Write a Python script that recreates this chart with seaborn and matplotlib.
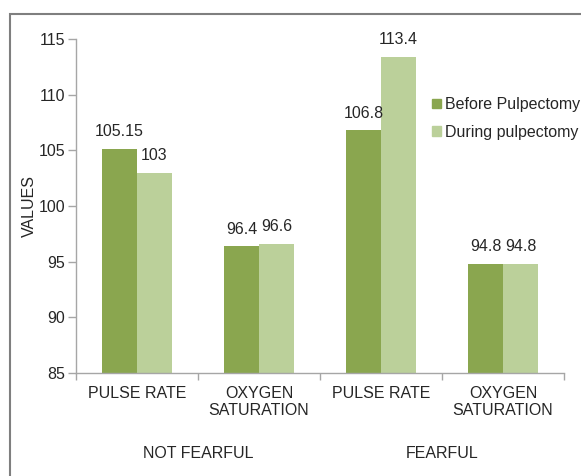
import matplotlib
matplotlib.use("Agg")
import matplotlib.pyplot as plt
import matplotlib.patches as mpatches
import seaborn as sns
import pandas as pd

# Data
measures = ["PULSE RATE", "OXYGEN\nSATURATION", "PULSE RATE", "OXYGEN\nSATURATION"]
groups = ["NOT FEARFUL", "FEARFUL"]
series = ["Before Pulpectomy", "During pulpectomy"]
before = [105.15, 96.4, 106.8, 94.8]
during = [103, 96.6, 113.4, 94.8]
before_labels = ["105.15", "96.4", "106.8", "94.8"]
during_labels = ["103", "96.6", "113.4", "94.8"]

rows = []
for i in range(len(measures)):
    rows.append({"pos": i, "series": series[0], "value": before[i]})
    rows.append({"pos": i, "series": series[1], "value": during[i]})
df = pd.DataFrame(rows)

sns.set_theme(style="white")
plt.rcParams["font.family"] = ["Liberation Sans", "DejaVu Sans"]
text_color = "#262626"
axis_color = "#a6a6a6"
fs = 11.5

fig = plt.figure(figsize=(5.81, 4.76), dpi=100)
ax = fig.add_axes([76 / 581, 1 - 373 / 476, (564 - 76) / 581, (373 - 39) / 476])

colors = ["#8aa64f", "#bbd09a"]
sns.barplot(data=df, x="pos", y="value", hue="series", hue_order=series,
            palette=colors, width=0.574, gap=0, dodge=True, saturation=1,
            order=[0, 1, 2, 3], ax=ax, legend=False, linewidth=0)

ax.set_ylim(85, 115)
ax.set_yticks(range(85, 116, 5))
ax.set_xlim(-0.5, 3.5)

# bars start at the axis floor
for patch in ax.patches:
    h = patch.get_height()
    patch.set_y(85)
    patch.set_height(h - 85)
    patch.set_edgecolor("none")

# value labels
bar_w = 0.574 / 2
for i in range(len(measures)):
    ax.text(i - bar_w / 2, before[i] + 0.85, before_labels[i], ha="center",
            va="bottom", fontsize=fs, color=text_color)
    ax.text(i + bar_w / 2, during[i] + 0.85, during_labels[i], ha="center",
            va="bottom", fontsize=fs, color=text_color)

# axes styling
for s in ["top", "right"]:
    ax.spines[s].set_visible(False)
for s in ["left", "bottom"]:
    ax.spines[s].set_color(axis_color)
    ax.spines[s].set_linewidth(1.0)

ax.set_xticks(range(len(measures)))
ax.set_xticklabels(measures, fontsize=fs, color=text_color, linespacing=1.2)
ax.set_xticks([-0.5, 0.5, 1.5, 2.5, 3.5], minor=True)
ax.tick_params(axis="x", which="major", length=0, pad=9)
ax.tick_params(axis="x", which="minor", length=5, color=axis_color, width=1,
               direction="out", bottom=True)
ax.tick_params(axis="y", length=6, color=axis_color, width=1, direction="out",
               left=True, labelsize=fs, labelcolor=text_color, pad=2)
ax.set_xlabel("")
ax.set_ylabel("VALUES", fontsize=fs, color=text_color, labelpad=1)

# group labels under the category labels
for gi, g in enumerate(groups):
    ax.text(gi * 2 + 0.5, -80 / 334, g, transform=ax.get_xaxis_transform(),
            ha="center", va="center", fontsize=fs, color=text_color)

# legend
handles = [mpatches.Patch(color=c, label=l) for c, l in zip(colors, series)]
fig.legend(handles=handles, loc="upper left",
           bbox_to_anchor=(432 / 581, 1 - 97 / 476), frameon=False,
           borderpad=0, borderaxespad=0,
           fontsize=fs, handlelength=0.55, handleheight=0.55,
           handletextpad=0.25, labelspacing=0.8, labelcolor=text_color)

# outer frame
frame = mpatches.Rectangle((10 / 581, -0.2), 1.2, 1 - 14 / 476 + 0.2,
                           transform=fig.transFigure, fill=False,
                           edgecolor="#7f7f7f", linewidth=1.5, clip_on=False)
fig.add_artist(frame)

fig.savefig("out.png", dpi=100)
